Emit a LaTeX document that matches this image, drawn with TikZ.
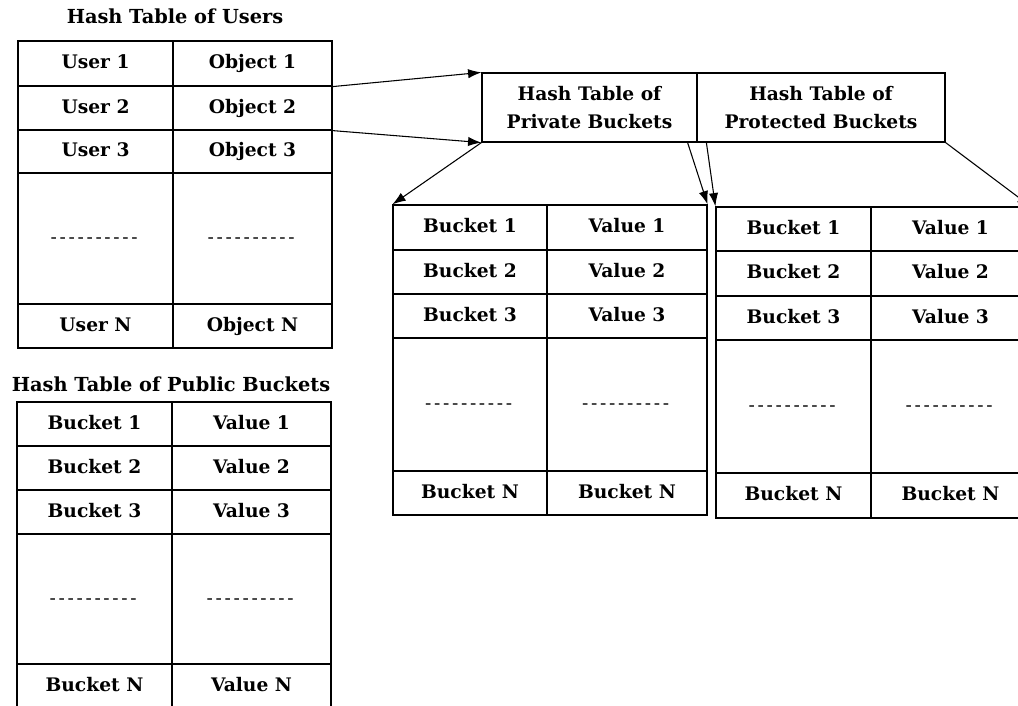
\documentclass[tikz,border=0pt]{standalone}
\usepackage{fontspec}
\setmainfont{DejaVu Serif}
\usetikzlibrary{arrows.meta,calc}

% one table cell: name, centre x, centre y, width, height, text (units are pixels)
\newcommand\tcell[6]{\node[cell, minimum width=#4*0.75pt, minimum height=#5*0.75pt] (#1) at (#2,#3) {#6};}
% placeholder row of hyphens (boxed so they do not merge into dashes)
\newcommand\gap{\mdseries\foreach\i in {1,...,10}{\mbox{-}\kern2pt}}

\begin{document}
\begin{tikzpicture}[x=0.75pt,y=-0.75pt,
  cell/.style={draw, line width=0.9pt, inner sep=0pt, text height=10pt, text depth=2pt,
    font=\fontsize{14}{16}\selectfont\bfseries},
  header/.style={draw, line width=0.9pt, inner sep=0pt, align=center,
    minimum height=69*0.75pt, font=\fontsize{14}{21}\selectfont\bfseries},
  heading/.style={inner sep=0pt, font=\fontsize{14.5}{16}\selectfont\bfseries},
  link/.style={line width=0.8pt, -{Latex[length=10pt,width=7pt]}}]
\useasboundingbox (0,0) rectangle (1018,706);
\clip (0,0) rectangle (1018,706);

% ---- users table ----
\node[heading] (tu) at (175,16) {Hash Table of Users};
\tcell{ua1}{95.5}{63.5}{155}{45}{User 1}
\tcell{ub1}{252.5}{63.5}{159}{45}{Object 1}
\tcell{ua2}{95.5}{108}{155}{44}{User 2}
\tcell{ub2}{252.5}{108}{159}{44}{Object 2}
\tcell{ua3}{95.5}{151.5}{155}{43}{User 3}
\tcell{ub3}{252.5}{151.5}{159}{43}{Object 3}
\tcell{ua4}{95.5}{238.5}{155}{131}{\gap}
\tcell{ub4}{252.5}{238.5}{159}{131}{\gap}
\tcell{ua5}{95.5}{326}{155}{44}{User N}
\tcell{ub5}{252.5}{326}{159}{44}{Object N}

% ---- public buckets ----
\node[heading] (tp) at (171,384) {Hash Table of Public Buckets};
\tcell{pa1}{94.5}{424}{155}{44}{Bucket 1}
\tcell{pb1}{251.5}{424}{159}{44}{Value 1}
\tcell{pa2}{94.5}{468}{155}{44}{Bucket 2}
\tcell{pb2}{251.5}{468}{159}{44}{Value 2}
\tcell{pa3}{94.5}{512}{155}{44}{Bucket 3}
\tcell{pb3}{251.5}{512}{159}{44}{Value 3}
\tcell{pa4}{94.5}{599}{155}{130}{\gap}
\tcell{pb4}{251.5}{599}{159}{130}{\gap}
\tcell{pa5}{94.5}{686}{155}{44}{Bucket N}
\tcell{pb5}{251.5}{686}{159}{44}{Value N}

% ---- per-object header ----
\node[header, minimum width=215*0.75pt] (hp) at (589.5,107.5) {Hash Table of\\Private Buckets};
\node[header, minimum width=248*0.75pt] (hq) at (821,107.5) {Hash Table of\\Protected Buckets};

% ---- private buckets ----
\tcell{ra1}{470}{227.5}{154}{45}{Bucket 1}
\tcell{rb1}{627}{227.5}{160}{45}{Value 1}
\tcell{ra2}{470}{272}{154}{44}{Bucket 2}
\tcell{rb2}{627}{272}{160}{44}{Value 2}
\tcell{ra3}{470}{316}{154}{44}{Bucket 3}
\tcell{rb3}{627}{316}{160}{44}{Value 3}
\tcell{ra4}{470}{404.5}{154}{133}{\gap}
\tcell{rb4}{627}{404.5}{160}{133}{\gap}
\tcell{ra5}{470}{493}{154}{44}{Bucket N}
\tcell{rb5}{627}{493}{160}{44}{Bucket N}

% ---- protected buckets ----
\tcell{qa1}{793.5}{229}{155}{44}{Bucket 1}
\tcell{qb1}{950.5}{229}{159}{44}{Value 1}
\tcell{qa2}{793.5}{273.5}{155}{45}{Bucket 2}
\tcell{qb2}{950.5}{273.5}{159}{45}{Value 2}
\tcell{qa3}{793.5}{318}{155}{44}{Bucket 3}
\tcell{qb3}{950.5}{318}{159}{44}{Value 3}
\tcell{qa4}{793.5}{406.5}{155}{133}{\gap}
\tcell{qb4}{950.5}{406.5}{159}{133}{\gap}
\tcell{qa5}{793.5}{495.5}{155}{45}{Bucket N}
\tcell{qb5}{950.5}{495.5}{159}{45}{Bucket N}

% ---- references ----
\draw[link] (ub1.south east) -- (hp.north west);
\draw[link] (ub2.south east) -- (hp.south west);
\draw[link] (hp.south west) -- (ra1.north west);
\draw[link] ($(hp.south east)+(-10,0)$) -- (rb1.north east);
\draw[link] ($(hq.south west)+(10,0)$) -- (qa1.north west);
\draw[link] (hq.south east) -- (qb1.north east);
\end{tikzpicture}
\end{document}
